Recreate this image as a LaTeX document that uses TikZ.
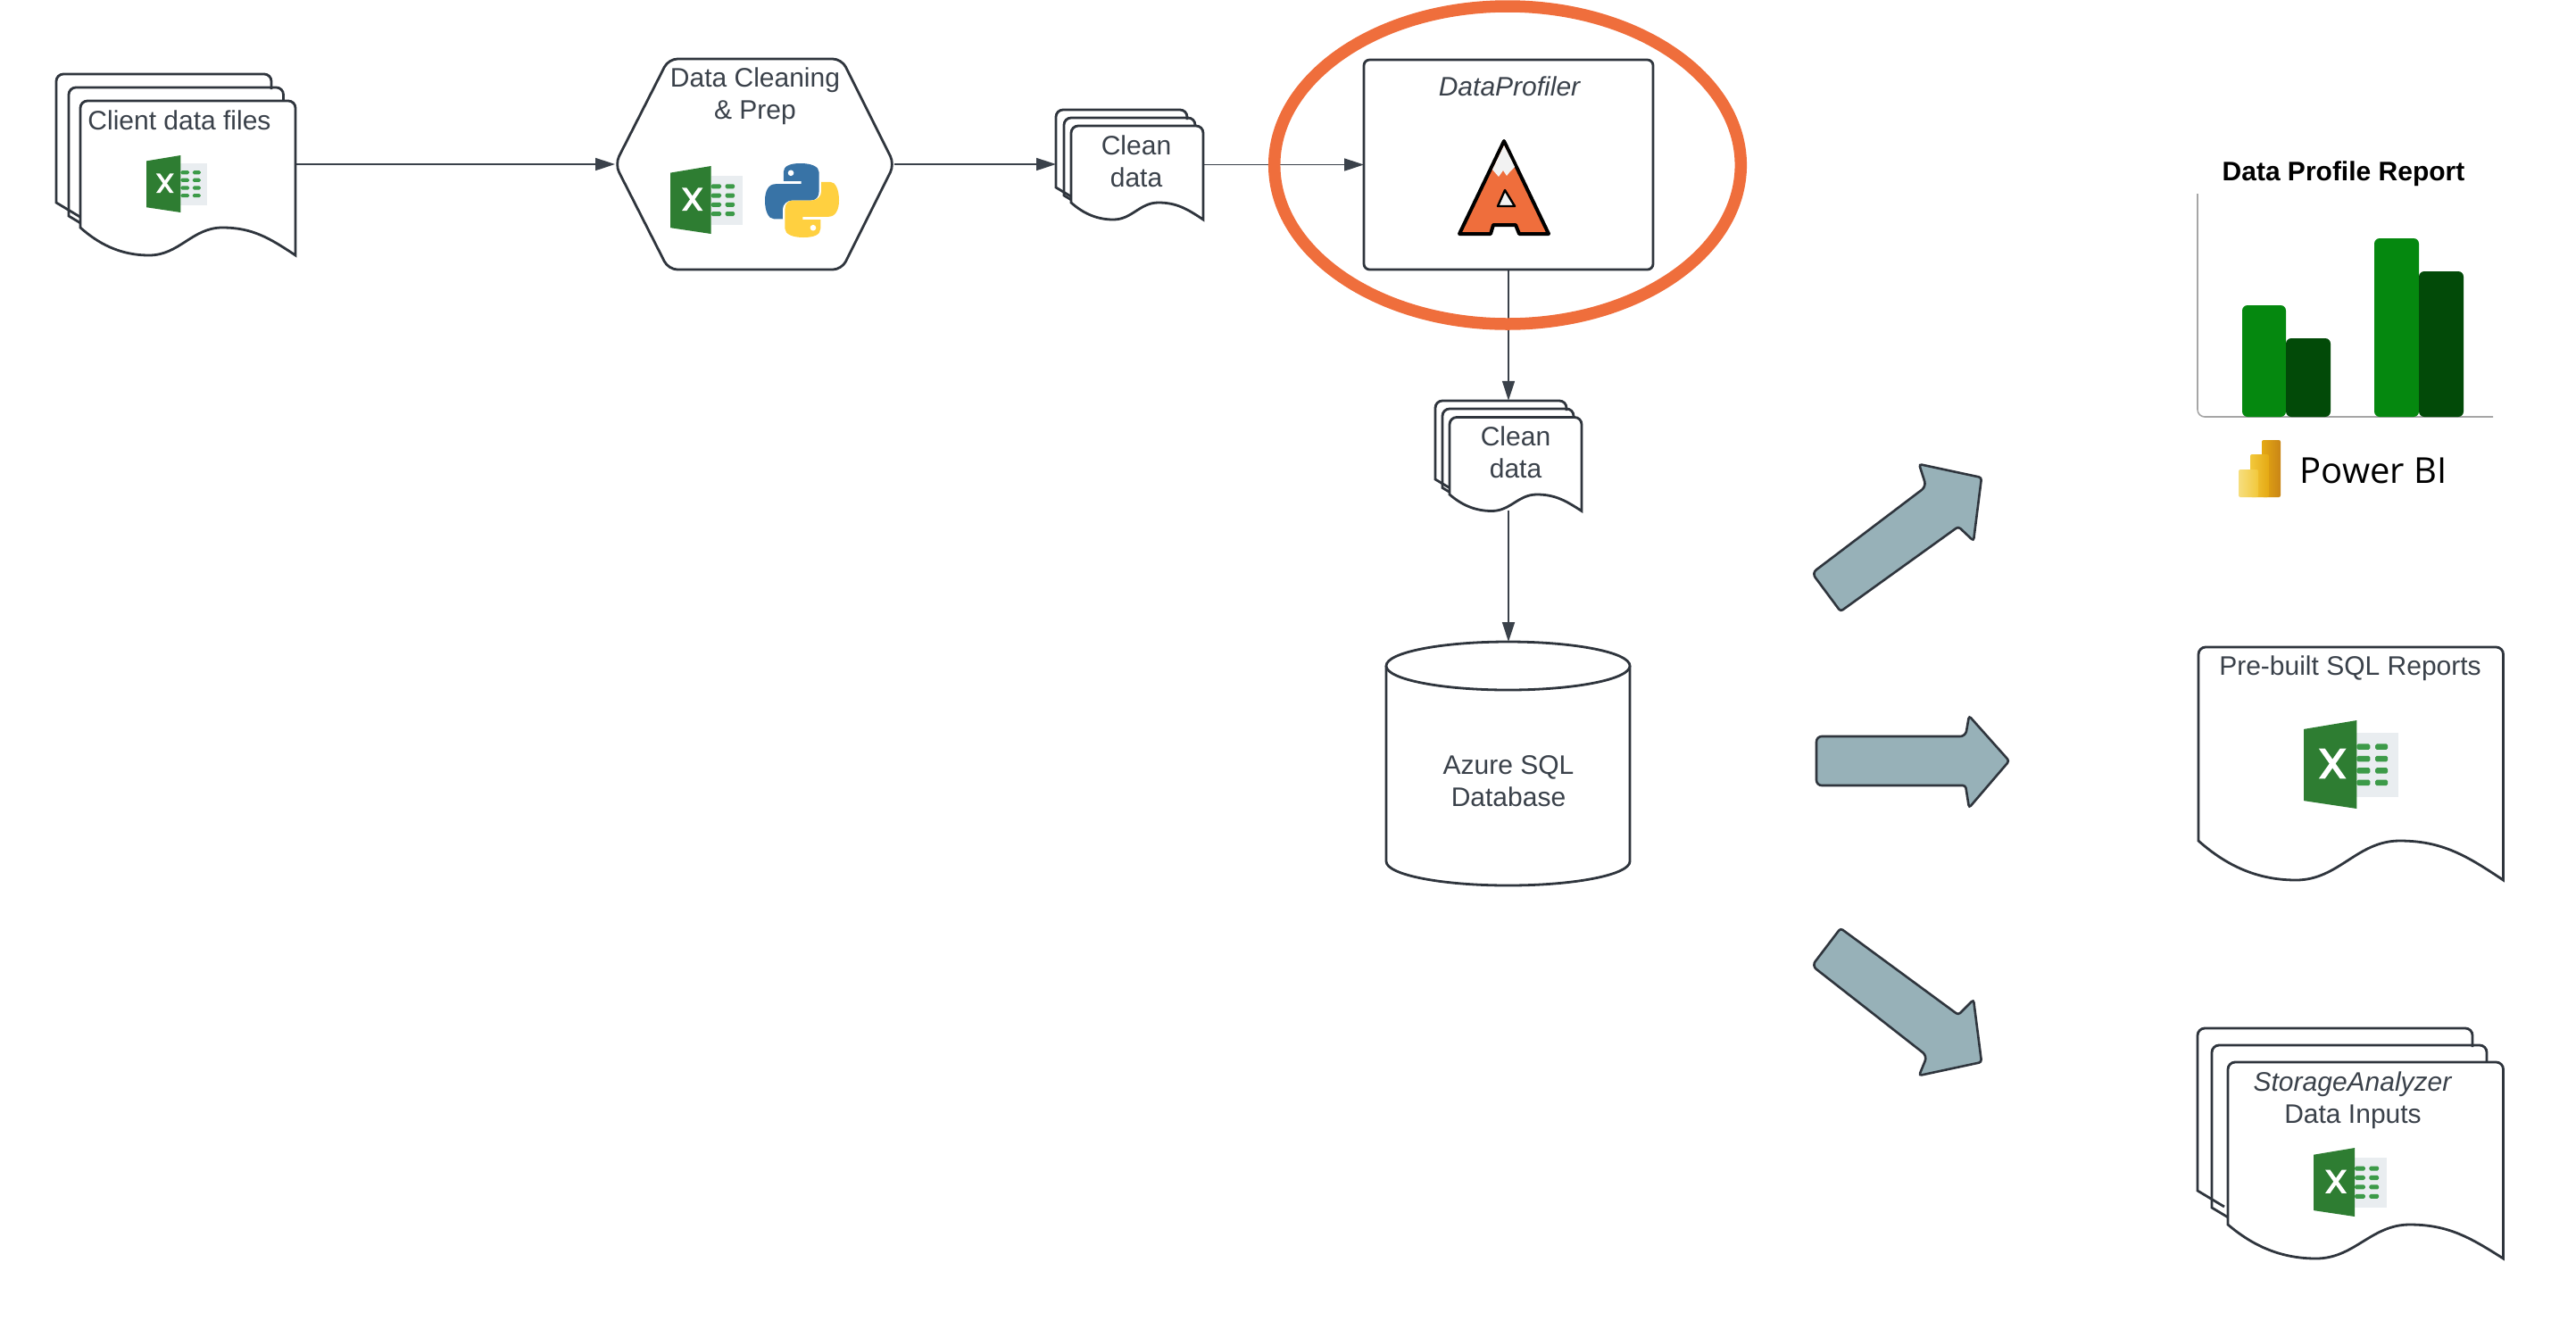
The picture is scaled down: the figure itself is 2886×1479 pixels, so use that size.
\documentclass[tikz,border=0pt]{standalone}
\usepackage{fontspec}
\setmainfont{Liberation Sans}
\newfontfamily\pbifont{Open Sans}
\usetikzlibrary{arrows.meta,shapes.geometric,backgrounds}

\definecolor{inkline}{HTML}{2F353D}
\definecolor{inktext}{HTML}{3A414A}
\definecolor{ringorange}{HTML}{EF6E3C}
\definecolor{arrowteal}{HTML}{97B1B8}
\definecolor{xldark}{HTML}{2E7D32}
\definecolor{xlmid}{HTML}{3C9A48}
\definecolor{xlpale}{HTML}{E9EDF0}
\definecolor{pyblue}{HTML}{3873A6}
\definecolor{pyyellow}{HTML}{FFD040}
\definecolor{barlight}{HTML}{05880F}
\definecolor{bardark}{HTML}{024A08}
\definecolor{pbilow}{HTML}{F6DE7E}
\definecolor{pbimid}{HTML}{F2C83C}
\definecolor{pbihigh}{HTML}{E5A913}
\definecolor{pbideep}{HTML}{C98516}

\tikzset{
  sheetline/.style={draw=inkline, line width=1.4pt},
  sheet/.style={sheetline, fill=white},
  hook/.style={inner sep=0pt, outer sep=0pt},
  label/.style={font=\fontsize{15}{18}\selectfont, text=inktext, align=center, inner sep=0pt},
  flow/.style={draw=inktext, line width=0.8pt, -{Triangle[length=11pt,width=7pt]}},
  bigarrow/.style={draw=inkline, line width=1.3pt, fill=arrowteal, rounded corners=3pt},
  excelicon/.pic={
    \fill[xlpale] (60,14) rectangle (107,87);
    \fill[xldark] (0,10) -- (60,0) -- (60,100) -- (0,91) -- cycle;
    \foreach \rowy in {30,43.5,57,70.5}{
      \fill[xlmid, rounded corners=0.8pt] (60,\rowy-3.3) rectangle (75,\rowy+3.3);
      \fill[xlmid, rounded corners=0.8pt] (81,\rowy-3.3) rectangle (95,\rowy+3.3);
    }
    \fill[white] (17,32) -- (24,32) -- (48,66) -- (41,66) -- cycle;
    \fill[white] (41,32) -- (48,32) -- (24,66) -- (17,66) -- cycle;
  },
  pythonicon/.pic={
    \fill[pyblue] (48,0) .. controls (33,0) and (25,4) .. (25,12) -- (25,24) -- (49,24) -- (49,28) -- (14,28)
      .. controls (5,28) and (0,37) .. (0,50) .. controls (0,65) and (5,75) .. (12,75) -- (24,75) -- (24,62)
      .. controls (24,55) and (30,50) .. (37,50) -- (62,50) .. controls (69,50) and (73,45) .. (73,38)
      -- (73,12) .. controls (73,4) and (62,0) .. (48,0) -- cycle;
    \fill[white] (35,13) circle[radius=4];
    \begin{scope}[rotate around={180:(50,50)}]
    \fill[pyyellow] (48,0) .. controls (33,0) and (25,4) .. (25,12) -- (25,24) -- (49,24) -- (49,28) -- (14,28)
      .. controls (5,28) and (0,37) .. (0,50) .. controls (0,65) and (5,75) .. (12,75) -- (24,75) -- (24,62)
      .. controls (24,55) and (30,50) .. (37,50) -- (62,50) .. controls (69,50) and (73,45) .. (73,38)
      -- (73,12) .. controls (73,4) and (62,0) .. (48,0) -- cycle;
    \fill[white] (35,13) circle[radius=4];
    \end{scope}
  }
}

% left, top, right, lower left y, next sheet top
\newcommand{\backsheet}[5]{
  \draw[sheetline, rounded corners=4pt] ({#1+30},{#4+18}) [sharp corners] -- (#1,#4) [rounded corners=4pt] -- (#1,#2) -- (#3,#2) -- (#3,{#5+2});
}
% left, top, right, lower left y, lower right y
\newcommand{\frontsheet}[5]{
  \draw[sheet] (#3,#5) .. controls ({#3-.12*(#3-#1)},{#5-.62*(#5-#4)}) and ({#3-.2*(#3-#1)},#4) .. ({#1+.66*(#3-#1)},#4)
    .. controls ({#1+.52*(#3-#1)},#4) and ({#1+.46*(#3-#1)},#5) .. ({#1+.32*(#3-#1)},#5)
    .. controls ({#1+.18*(#3-#1)},#5) and ({#1+.08*(#3-#1)},{#4+.55*(#5-#4)}) .. (#1,#4)
    [rounded corners=4pt] -- (#1,#2) -- (#3,#2) [sharp corners] -- cycle;
}

\begin{document}
\begin{tikzpicture}[x=0.5pt,y=-0.5pt]
\useasboundingbox (0,0) rectangle (2886,1479);

% client files
\backsheet{63}{83}{304}{227}{98}
\backsheet{77}{98}{317.5}{242}{113}
\frontsheet{90}{113}{331}{255}{286}
\node[hook, minimum width=134pt, minimum height=101.5pt] (clientfiles) at (197,184.5) {};
\node[label] (clienttext) at (201,135) {Client data files};
\pic (clientxl) [scale=0.64] at (164,174) {excelicon};

% cleaning step
\node[hook, minimum width=156.5pt, minimum height=118pt] (prep) at (845.5,184) {};
\draw[sheet, rounded corners=5pt] (prep.west) -- (749,66) -- (943,66) -- (prep.east) -- (943,302) -- (749,302) -- cycle;
\node[label] (preptext) at (846,108) {Data Cleaning\\\& Prep};
\pic (prepxl) [scale=0.76] at (751,186) {excelicon};
\pic (preppy) [scale=0.83] at (857,183) {pythonicon};

% first clean data
\backsheet{1183}{123}{1330}{210}{132}
\backsheet{1192}{132}{1339}{219}{141}
\frontsheet{1200}{141}{1348}{227}{246}
\node[hook, minimum width=82.5pt, minimum height=61.5pt] (cleanfirst) at (1265.5,184.5) {};
\node[label] (cleanfirsttext) at (1273,181) {Clean\\data};

% profiler
\node[sheet, hook, rounded corners=3.2pt, minimum width=162pt, minimum height=117.5pt] (profiler) at (1690,184.5) {};
\node[label, font=\fontsize{15}{18}\selectfont\itshape] (profilertext) at (1691,97) {DataProfiler};
\draw[black, line width=2pt, fill=ringorange, line join=round]
  (1685,158) -- (1735,262) -- (1702,262) -- (1698,252) -- (1673,252) -- (1670,262) -- (1635,262) -- cycle;
\draw[black, line width=1.2pt, fill=white!95!black, line join=round] (1686,213) -- (1678,231) -- (1697,231) -- cycle;
\fill[white!95!black] (1685,163) -- (1697,187) -- (1692,192) -- (1688,197) -- (1684,191) -- (1679,198) -- (1672,190) -- cycle;
\node[draw=ringorange, line width=6.75pt, ellipse, inner sep=0pt, minimum width=261.3pt, minimum height=178pt] (ring) at (1689,185) {};

% second clean data
\backsheet{1608}{449}{1755}{537}{458}
\backsheet{1616}{458}{1763}{546.5}{467.5}
\frontsheet{1624}{467.5}{1772}{554}{572.5}
\node[hook, minimum width=82pt, minimum height=61.75pt] (cleansecond) at (1690,510.5) {};
\node[label] (cleansecondtext) at (1698,507) {Clean\\data};

% database
\node[hook, minimum width=136.5pt, minimum height=136.5pt] (sqldb) at (1689.5,855.5) {};
\draw[sheet] (1553,746) -- (1553,965) arc[start angle=180, end angle=360, x radius=68.25pt, y radius=13.5pt] -- (1826,746);
\draw[sheet] (1689.5,746) circle[x radius=68.25pt, y radius=13.5pt];
\node[label] (sqltext) at (1690,875.5) {Azure SQL\\Database};

% connectors
\begin{scope}[on background layer]
\draw[flow] (clientfiles.east |- prep.west) -- (prep.west);
\draw[flow] (prep.east) -- (cleanfirst.west |- prep.east);
\draw[flow] (cleanfirst.east |- profiler.west) -- (profiler.west);
\draw[flow] (profiler.south) -- (cleansecond.north);
\draw[flow] (cleansecond.south) -- (cleansecond.south |- sqldb.north);
\end{scope}

% block arrows
\draw[bigarrow] (2062,685) -- (2030,642) -- (2158,545) [rounded corners=1.5pt] -- (2150,520) -- (2220,535) -- (2211,606) -- (2194,590) -- cycle;
\draw[bigarrow] (2035,825) -- (2202,825) [rounded corners=1.5pt] -- (2206,802) -- (2251,852.5) -- (2206,905) -- (2202,880) [rounded corners=3pt] -- (2035,880) -- cycle;
\draw[bigarrow] (2062,1040) -- (2030,1082) -- (2159,1183) [rounded corners=1.5pt] -- (2150,1205) -- (2220,1190) -- (2211,1120) -- (2194,1137) -- cycle;

% power bi report
\node[font=\fontsize{15}{18}\selectfont\bfseries, inner sep=0pt] (reporttitle) at (2625.5,195) {Data Profile Report};
\draw[black!35, line width=0.8pt, rounded corners=4pt] (2462,217) -- (2462,467) -- (2793,467);
\foreach \barleft/\barright/\bartop/\barcolor in {2512/2561/342/barlight, 2561/2611/379/bardark, 2660/2710/267/barlight, 2710/2760/304/bardark}{
  \fill[\barcolor, rounded corners=3pt] (\barleft,467) -- (\barleft,\bartop) -- (\barright,\bartop) -- (\barright,467) -- cycle;
}
\shade[left color=pbihigh, right color=pbideep, rounded corners=1pt] (2534,493) rectangle (2555,557);
\shade[left color=pbimid, right color=pbihigh, rounded corners=1pt] (2521,509) rectangle (2542,557);
\shade[left color=pbilow, right color=pbimid, rounded corners=1pt] (2508,526) rectangle (2530,557);
\node[font=\fontsize{20}{24}\selectfont\pbifont, inner sep=0pt] (pbitext) at (2659,527) {Power BI};

% sql reports
\frontsheet{2463}{725}{2804.5}{942}{986}
\node[label] (reportstext) at (2633,749) {Pre-built SQL Reports};
\pic (reportsxl) [scale=0.99] at (2581,807) {excelicon};

% storage inputs
\backsheet{2462}{1152}{2770}{1334}{1171}
\backsheet{2478}{1171}{2786}{1353}{1190}
\frontsheet{2496}{1190}{2804.5}{1372}{1410}
\node[label] (storagetext) at (2636,1232.5) {\textit{StorageAnalyzer}\\Data Inputs};
\pic (storagexl) [scale=0.77] at (2592,1286) {excelicon};
\end{tikzpicture}
\end{document}
